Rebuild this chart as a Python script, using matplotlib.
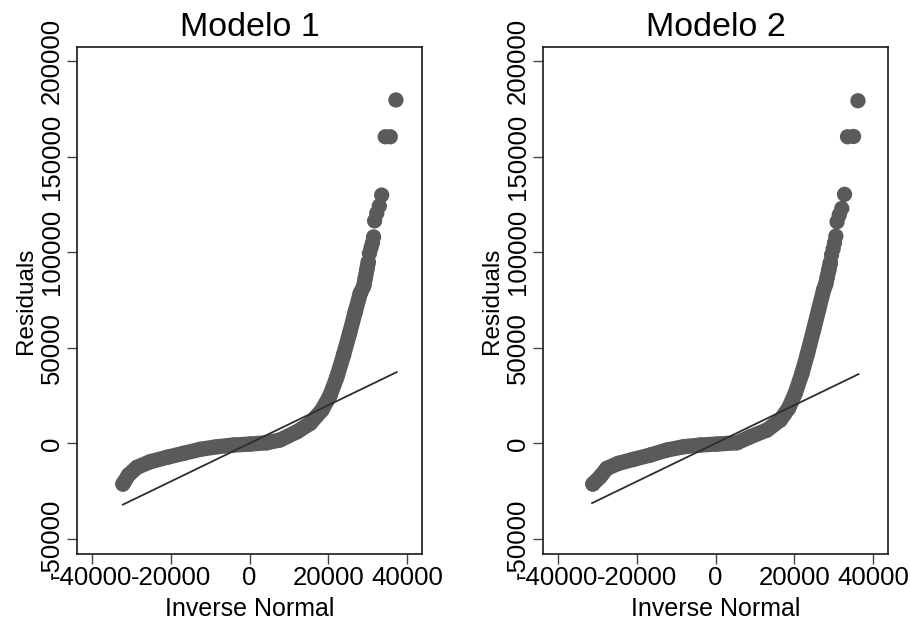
import matplotlib.pyplot as plt

plt.rcParams['font.family'] = ['Liberation Sans', 'DejaVu Sans']

titles = ["Modelo 1", "Modelo 2"]
x_ticks = [-40000, -20000, 0, 20000, 40000]
y_ticks = [-50000, 0, 50000, 100000, 150000, 200000]
x_label = "Inverse Normal"
y_label = "Residuals"

# Modelo 1: dense part of the quantile band (inverse normal, residual)
m1_band_x = [-32090, -30670, -28540, -25170, -20940, -16730, -12500, -8260, -4060, 180,
             4410, 7780, 12020, 15390, 18350, 20460, 22160, 23830, 25350, 26800,
             28060, 28950, 29330, 29710, 30090]
m1_band_y = [-21310, -16600, -12570, -9630, -7330, -5240, -3140, -1780, -890, -370,
             310, 1800, 6070, 10470, 17440, 25290, 34870, 46230, 57600, 68910,
             78540, 82360, 86550, 90740, 94930]
# Modelo 1: separate points in the upper tail
m1_tail_x = [30400, 30800, 31150, 31450, 31700, 32250, 32900, 33500, 34400, 35670, 37110]
m1_tail_y = [99500, 102400, 105000, 108100, 116500, 120500, 124300, 130000, 160540, 160540, 179800]
m1_line_x = [-32100, 37300]
m1_line_y = [-32100, 37300]

# Modelo 2
m2_band_x = [-31100, -29230, -27530, -24590, -20790, -16550, -12320, -8110, -3880, 350,
             5420, 8800, 13030, 16400, 18510, 20200, 21900, 23320, 24840, 26110,
             27380, 27940, 28320, 28700, 29080]
m2_band_y = [-21310, -17490, -13090, -10470, -8380, -6130, -3510, -1780, -890, -370,
             310, 3460, 6960, 12200, 18330, 26180, 36650, 47120, 59320, 69790,
             80270, 83410, 87080, 90740, 94410]
m2_tail_x = [29400, 29800, 30150, 30500, 30800, 31350, 32000, 32700, 33460, 34980, 36100]
m2_tail_y = [98600, 101800, 105000, 108500, 116000, 119600, 123000, 130400, 160540, 160700, 179400]
m2_line_x = [-31300, 36250]
m2_line_y = [-31300, 36250]

panels = [
    (m1_band_x, m1_band_y, m1_tail_x, m1_tail_y, m1_line_x, m1_line_y),
    (m2_band_x, m2_band_y, m2_tail_x, m2_tail_y, m2_line_x, m2_line_y),
]

dot_color = '#5a5a5a'
dot_pt = 11.0

fig = plt.figure(figsize=(9.1, 6.21), dpi=100)
lefts = [0.0843, 0.5964]

for i, (bx, by, tx, ty, lx, ly) in enumerate(panels):
    ax = fig.add_axes([lefts[i], 0.1071, 0.3798, 0.8177])
    ax.plot(bx, by, color=dot_color, lw=dot_pt, solid_capstyle='round',
            solid_joinstyle='round', zorder=2)
    ax.scatter(bx, by, s=dot_pt ** 2, color=dot_color, edgecolors='none', zorder=2)
    ax.scatter(tx, ty, s=dot_pt ** 2, color=dot_color, edgecolors='none', zorder=2)
    ax.plot(lx, ly, color='#2e2e2e', lw=1.3, zorder=3)

    ax.set_xlim(-43800, 43800)
    ax.set_ylim(-58200, 207700)
    ax.set_xticks(x_ticks)
    ax.set_yticks(y_ticks)
    ax.set_xticklabels([str(v) for v in x_ticks])
    ax.set_yticklabels([str(v) for v in y_ticks], rotation=90, va='center')
    ax.tick_params(axis='both', direction='out', length=7, width=1.0,
                   color='#444444', pad=2)
    ax.tick_params(axis='y', labelsize=18.5)
    ax.tick_params(axis='x', labelsize=18.5, pad=1)
    for sp in ax.spines.values():
        sp.set_linewidth(1.2)
        sp.set_color('#1a1a1a')

    ax.set_title(titles[i], fontsize=24.5, pad=8)
    ax.set_xlabel(x_label, fontsize=18, labelpad=5)
    ax.set_ylabel(y_label, fontsize=17.5, labelpad=2)

fig.savefig('out.png', dpi=100, facecolor='white')
